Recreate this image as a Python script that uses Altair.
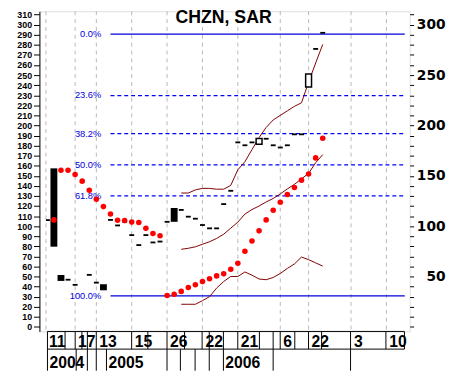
import altair as alt
import pandas as pd

# ---------------- data ----------------
# candles (index, low of body, high of body, kind)
candle_idx = [0, 1, 2, 3, 5, 6, 7, 8, 9, 10, 11, 12, 13, 14, 15, 16, 17, 18, 19,
              20, 21, 22, 23, 24, 25, 26, 27, 28, 29, 30, 31, 32, 33, 34, 35, 36, 37, 38]
candle_lo = [80.5, 46.5, 46.8, 41.7, 51.6, 43.9, 37.2, 106.2, 100.7, 104.3, 91.1, 81.2,
             91.1, 83.8, 84.7, 104.3, 105.2, 116.1, 109.4, 107.4, 101.1, 97.8, 97.8,
             121.9, 135.1, 183.2, 180.3, 183.2, 182.2, 186.8, 180.3, 178.1, 180.3,
             191.2, 191.2, 239.0, 276.0, 292.0]
candle_hi = [156.5, 50.6, 46.8, 41.7, 51.6, 43.9, 41.4, 106.2, 100.7, 104.3, 91.1, 81.2,
             91.1, 83.8, 84.7, 104.3, 117.1, 116.1, 109.4, 107.4, 101.1, 97.8, 97.8,
             121.9, 135.1, 183.2, 180.3, 183.2, 186.1, 186.8, 180.3, 178.1, 180.3,
             191.2, 191.2, 250.3, 276.0, 292.0]
candle_kind = ["box", "box", "dash", "dash", "dash", "dash", "box", "dash", "dash", "dash",
               "dash", "dash", "dash", "dash", "dash", "dash", "box", "dash", "dash", "dash",
               "dash", "dash", "dash", "dash", "dash", "dash", "dash", "dash", "hollow",
               "dash", "dash", "dash", "dash", "dash", "dash", "hollow", "dash", "dash"]
open_tick_idx = [-0.85]
open_tick_val = [106.0]

# parabolic SAR
sar_idx = list(range(39))
sar_val = [106.2, 155.6, 155.6, 151.2, 144.7, 135.7, 126.7, 119.4, 112.0, 105.9,
           105.5, 104.0, 103.6, 97.8, 92.7, 90.5, 31.1, 32.3, 35.2, 39.1, 41.7, 44.9,
           47.8, 50.6, 52.6, 57.1, 63.2, 75.1, 85.3, 95.3, 106.2, 115.8, 123.8, 131.5,
           138.3, 145.7, 151.7, 167.8, 187.3]

# three dark-red lines
line_idx = list(range(18, 39))
line_upper = [132.9, 132.9, 136.0, 137.5, 137.5, 136.7, 136.7, 140.5, 156.0, 164.0, 176.0,
              188.0, 198.0, 205.5, 210.0, 214.5, 219.0, 222.5, 243.0, 262.0, 280.5]
line_mid = [77.0, 78.0, 79.5, 82.0, 84.5, 87.8, 92.0, 98.0, 104.0, 112.0, 116.5, 120.0,
            124.0, 127.5, 132.0, 137.0, 141.5, 147.0, 152.4, 163.0, 171.0]
line_low = [22.4, 22.4, 22.4, 26.0, 30.0, 38.5, 45.0, 50.0, 50.0, 54.5, 51.3, 47.5, 46.8,
            49.0, 53.0, 58.0, 62.5, 69.3, 66.7, 63.5, 60.3]

# Fibonacci retracement levels
fib_val = [290.7, 229.7, 191.9, 160.8, 130.0, 30.8]
fib_lab = ["0.0%", "23.6%", "38.2%", "50.0%", "61.8%", "100.0%"]
fib_dash = [False, True, True, True, True, False]

# time axis
grid_idx = [-1.12, 3.0, 6.0, 11.0, 16.0, 21.0, 26.0, 32.0, 36.0, 42.0, 47.0]
day_lab = ["11", "17", "13", "15", "26", "22", "21", "6", "22", "3", "10"]
day_sep_idx = [-0.91, 1.58, 3.01, 3.96, 4.73, 5.99, 10.99, 13.28, 15.99, 18.47, 20.95,
               21.96, 23.96, 25.99, 29.05, 30.99, 31.99, 34.05, 35.99, 37.84, 41.93,
               46.93, 49.55]
year_lab = ["2004", "2005", "2006"]
year_idx = [-0.91, 7.43, 23.96]
year_sep_idx = [-0.91, 3.15, 4.73, 5.99, 7.43, 15.99, 17.88, 19.96, 21.96, 23.96, 30.99,
                41.93]

# ---------------- layout ----------------
W, H = 377, 326
XD = [-1.351, 49.595]
YD = [-4.58, 313.4]
xs = alt.Scale(domain=XD, nice=False, zero=False)
ys = alt.Scale(domain=YD, nice=False, zero=False)
BLUE = "#0000dd"
DRED = "#800000"

candles = pd.DataFrame({"i": candle_idx, "lo": candle_lo, "hi": candle_hi, "kind": candle_kind})
sar = pd.DataFrame({"i": sar_idx, "v": sar_val})
lines = pd.concat([
    pd.DataFrame({"i": line_idx, "v": line_upper, "s": "upper"}),
    pd.DataFrame({"i": line_idx, "v": line_mid, "s": "mid"}),
    pd.DataFrame({"i": line_idx, "v": line_low, "s": "low"}),
])
fib = pd.DataFrame({"v": fib_val, "lab": fib_lab, "dash": fib_dash,
                    "x0": 8.0, "x1": XD[1], "xl": 6.7})
grid = pd.DataFrame({"i": grid_idx})
days = pd.DataFrame({"i": grid_idx, "lab": day_lab})
years = pd.DataFrame({"i": year_idx, "lab": year_lab})
dsep = pd.DataFrame({"i": day_sep_idx})
ysep = pd.DataFrame({"i": year_sep_idx})
band = pd.DataFrame({"x0": [day_sep_idx[0]], "x1": [day_sep_idx[-1]]})
one = pd.DataFrame({"a": [0]})


def X(f):
    return alt.X(f, type="quantitative", scale=xs, axis=None)


def Y(f):
    return alt.Y(f, type="quantitative", scale=ys, axis=None)


ticks10 = list(range(0, 320, 10))

left_axis = alt.Axis(values=ticks10, orient="left", title=None, grid=False,
                     labelFont="Liberation Sans", labelFontSize=9, labelFontWeight="bold",
                     labelColor="black", tickColor="black", tickSize=6, labelPadding=2,
                     domainColor="black", labelFlush=False, labelOverlap=False)
right_axis = alt.Axis(values=ticks10, orient="right", title=None, grid=False, domain=False,
                      labelExpr="datum.value % 50 == 0 && datum.value > 0 ? datum.label : ''",
                      labelFont="DejaVu Sans", labelFontSize=14, labelFontWeight="bold",
                      labelColor="black", tickColor="black", tickSize=4, labelPadding=32,
                      labelAlign="right", labelFlush=False, labelOverlap=False)

gridl = alt.Chart(grid).mark_rule(color="#b8b8b8", strokeDash=[4, 4], strokeWidth=1).encode(
    x=X("i"), y=alt.value(0), y2=alt.value(H))

fib_solid = alt.Chart(fib[~fib["dash"]]).mark_rule(color=BLUE, strokeWidth=1.2).encode(
    x=X("x0"), x2="x1", y=alt.Y("v:Q", scale=ys, axis=left_axis))
fib_dashed = alt.Chart(fib[fib["dash"]]).mark_rule(color="#0000ff", strokeWidth=1.2,
                                                 strokeDash=[4, 3]).encode(
    x=X("x0"), x2="x1", y=Y("v"))
fib_text = alt.Chart(fib).mark_text(color=BLUE, align="right", baseline="middle",
                                    font="Liberation Sans", fontSize=9.5).encode(
    x=X("xl"), y=Y("v"), text="lab:N")

env = alt.Chart(lines).mark_line(color=DRED, strokeWidth=1).encode(
    x=X("i"), y=Y("v"), detail="s:N")

cand_base = alt.Chart(candles).transform_calculate(
    top="datum.hi + 0.9", bot="datum.lo - 0.9")
dash_l = cand_base.transform_filter("datum.kind == 'dash'").mark_bar(
    color="black", size=5).encode(x=X("i"), y=Y("top"), y2="bot:Q")
box_l = cand_base.transform_filter("datum.kind == 'box'").mark_bar(
    color="black", size=7).encode(x=X("i"), y=Y("top"), y2="bot:Q")
hol_l = cand_base.transform_filter("datum.kind == 'hollow'").mark_bar(
    fill="white", stroke="black", strokeWidth=1.5, size=6).encode(
    x=X("i"), y=Y("top"), y2="bot:Q")
otick = alt.Chart(pd.DataFrame({"i": open_tick_idx, "v": open_tick_val})).transform_calculate(
    top="datum.v + 0.9", bot="datum.v - 0.9").mark_bar(color="black", size=4).encode(
    x=X("i"), y=Y("top"), y2="bot:Q")

sar_l = alt.Chart(sar).mark_point(filled=True, color="#ff0000", size=32, opacity=1,
                                  shape="circle").encode(
    x=X("i"), y=alt.Y("v:Q", scale=ys, axis=right_axis))

title = alt.Chart(one).mark_text(text="CHZN, SAR", font="Liberation Sans", fontSize=18,
                                 fontWeight="bold", align="center", baseline="alphabetic",
                                 color="black").encode(
    x=alt.value(187.5), y=alt.value(12))

# bottom band
hline1 = alt.Chart(band).mark_rule(color="black", strokeWidth=1).encode(
    x=X("x0"), x2="x1", y=alt.value(H))
hline2 = alt.Chart(band).mark_rule(color="black", strokeWidth=1).encode(
    x=X("x0"), x2="x1", y=alt.value(H + 18))
dsep_l = alt.Chart(dsep).mark_rule(color="black", strokeWidth=1).encode(
    x=X("i"), y=alt.value(H), y2=alt.value(H + 18))
ysep_l = alt.Chart(ysep).mark_rule(color="black", strokeWidth=1).encode(
    x=X("i"), y=alt.value(H + 18), y2=alt.value(H + 40))
day_t = alt.Chart(days).mark_text(align="left", baseline="alphabetic", dx=3,
                                  font="Liberation Sans", fontSize=16, fontWeight="bold",
                                  color="black").encode(
    x=X("i"), y=alt.value(H + 16), text="lab:N")
year_t = alt.Chart(years).mark_text(align="left", baseline="alphabetic", dx=2,
                                    font="Liberation Sans", fontSize=16, fontWeight="bold",
                                    color="black").encode(
    x=X("i"), y=alt.value(H + 37), text="lab:N")

chart = alt.layer(
    gridl, fib_solid, fib_dashed, fib_text, env, dash_l, box_l, hol_l, otick, sar_l,
    title, hline1, hline2, dsep_l, ysep_l, day_t, year_t
).resolve_axis(y="independent").properties(
    width=W, height=H,
    padding={"left": 32, "top": 0, "right": 38, "bottom": 40},
    autosize=alt.AutoSizeParams(type="none"),
).configure_view(stroke=None).configure(background="white")

chart.save("out.html", embed_options={"renderer": "svg", "actions": False})
